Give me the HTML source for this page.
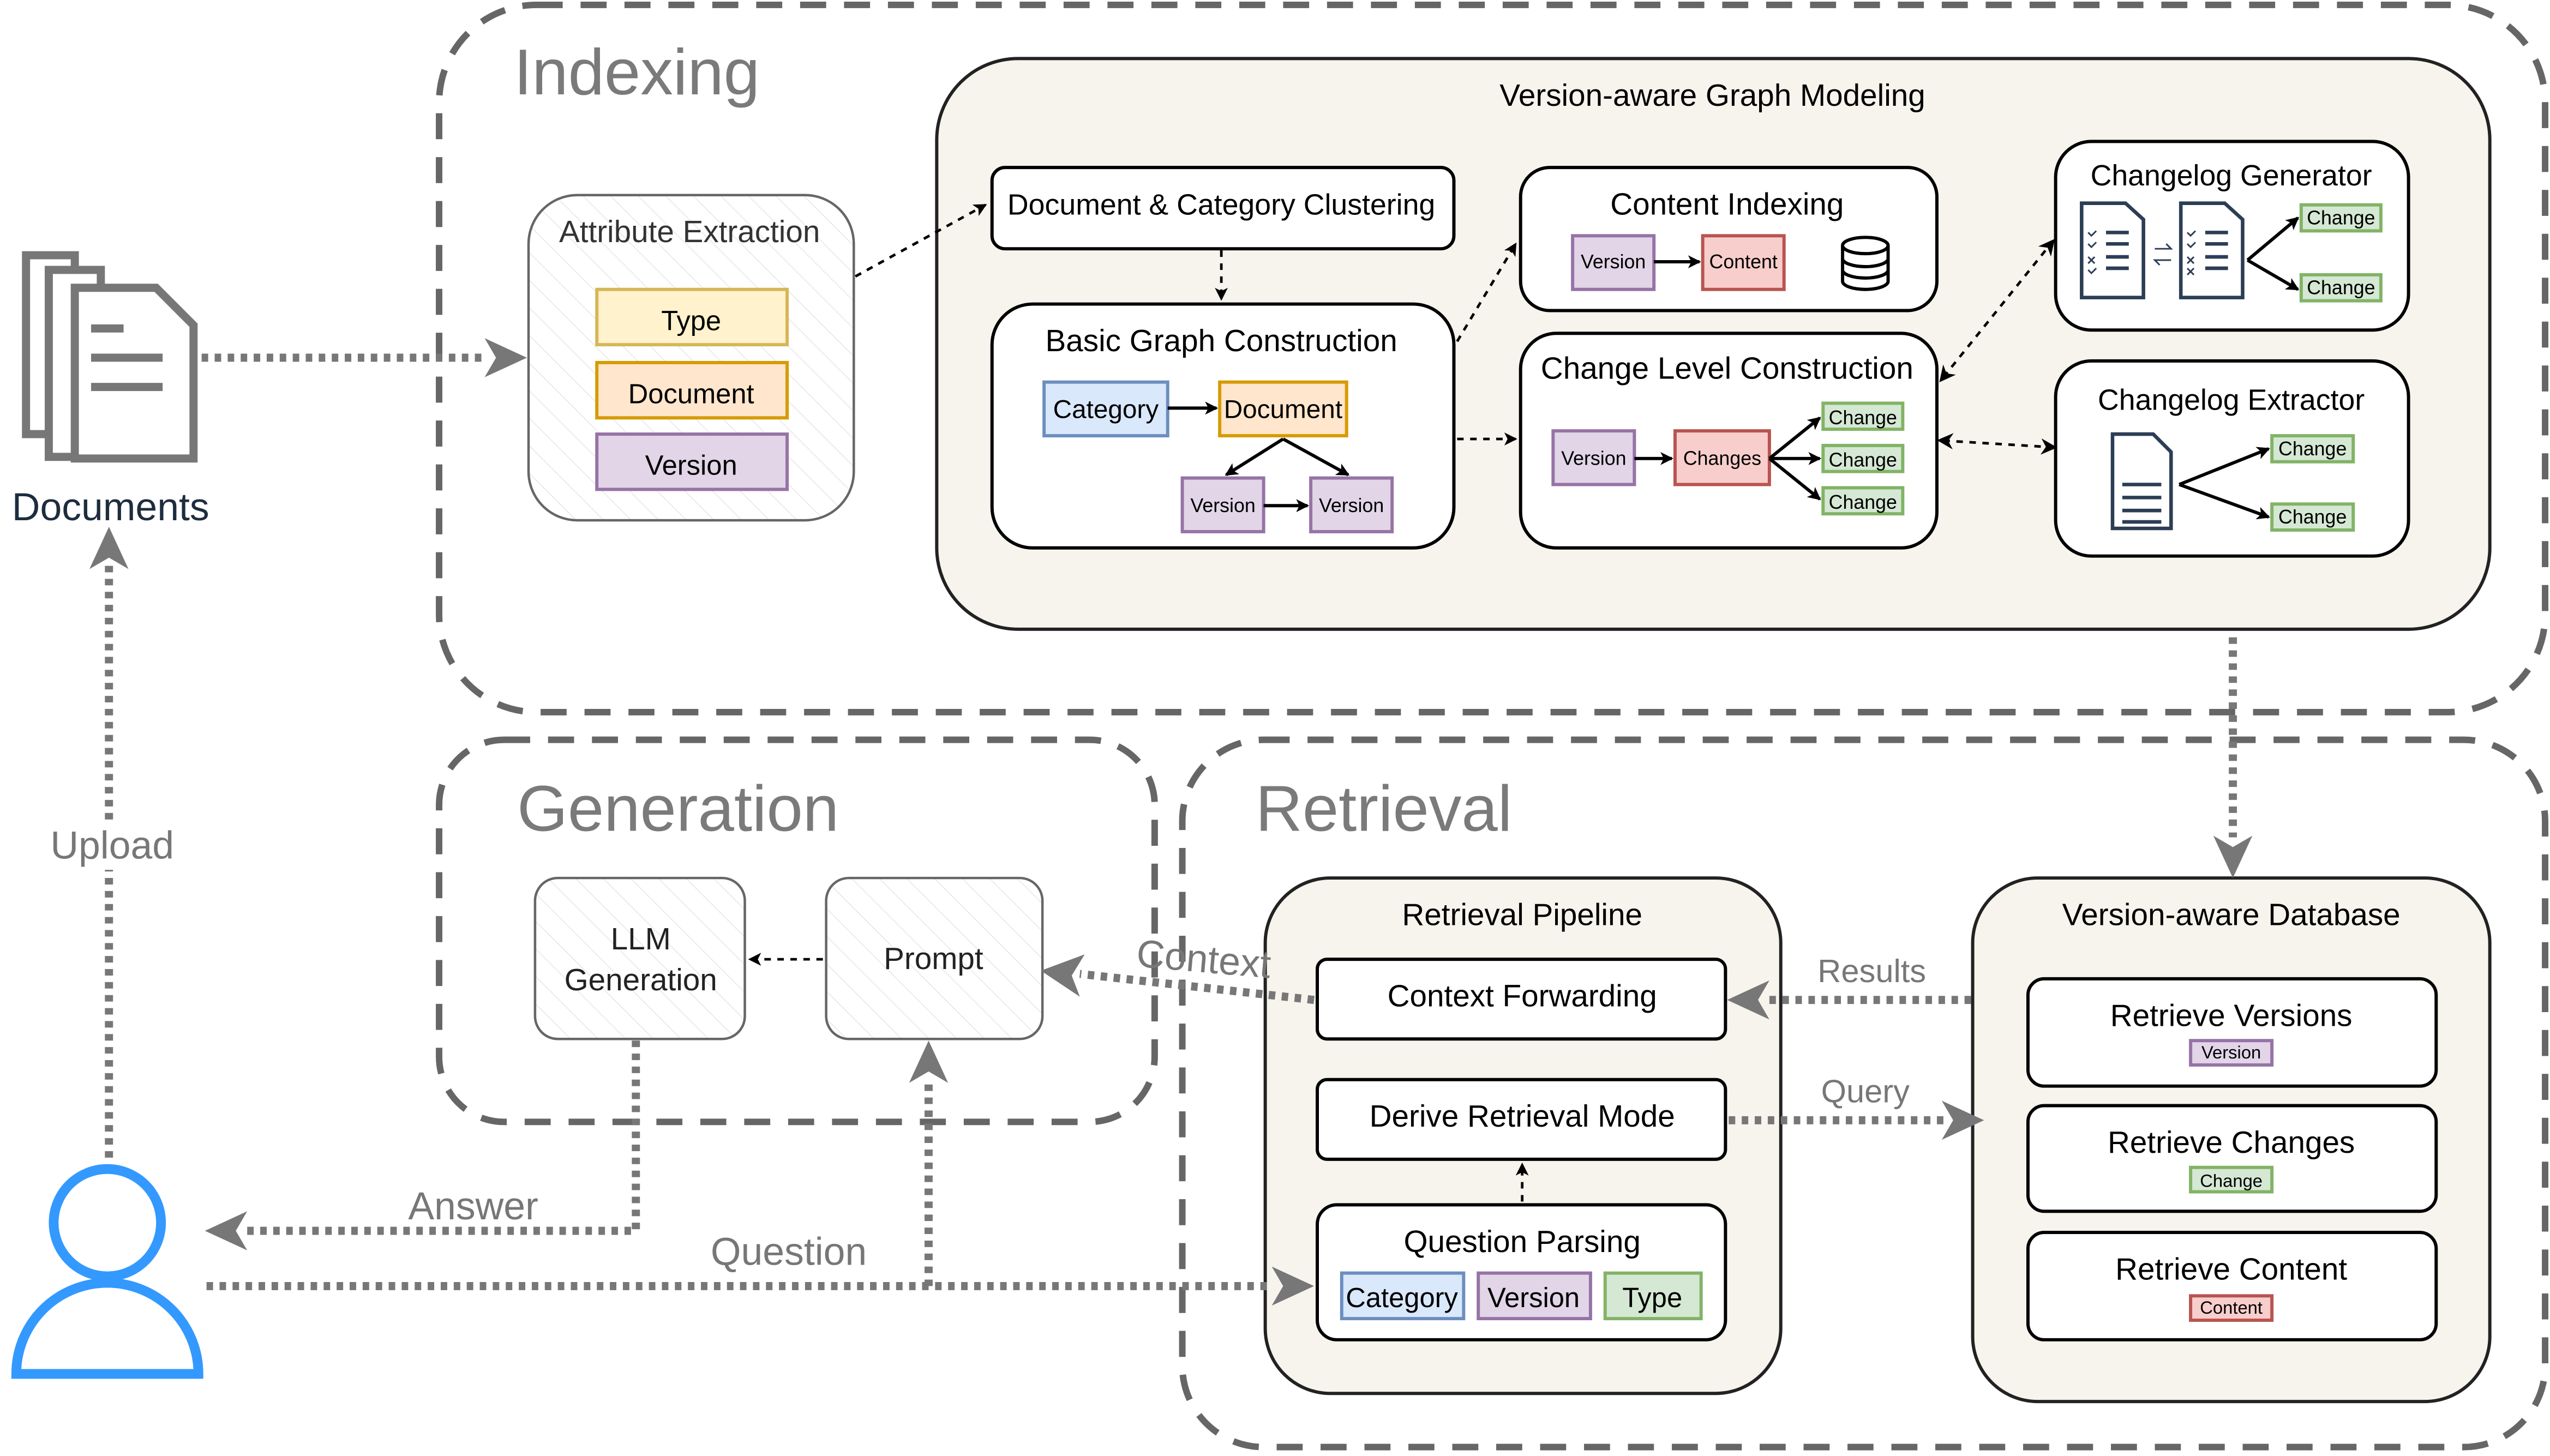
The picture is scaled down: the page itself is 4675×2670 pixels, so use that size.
<!DOCTYPE html>
<html><head><meta charset="utf-8"><style>html,body{margin:0;padding:0;background:#fff}svg{display:block}text{font-family:"Liberation Sans",sans-serif}</style></head>
<body>
<svg width="4675" height="2670" viewBox="0 0 1568 895.5" preserveAspectRatio="none" xmlns="http://www.w3.org/2000/svg">
<defs>
<pattern id="h" width="12" height="12" patternUnits="userSpaceOnUse" patternTransform="rotate(-45)"><rect width="12" height="12" fill="#fff"/><line x1="0" y1="0" x2="0" y2="12" stroke="#e6e6e6" stroke-width="1"/></pattern>
<marker id="ab" markerWidth="8" markerHeight="8" refX="7" refY="4" orient="auto" markerUnits="userSpaceOnUse"><path d="M0,0 L8,4 L0,8 L2,4z" fill="#000"/></marker>
<marker id="abs" markerWidth="10" markerHeight="10" refX="6" refY="5" orient="auto-start-reverse" markerUnits="userSpaceOnUse"><path d="M0,0 L10,5 L0,10 L3,5z" fill="#000"/></marker>
</defs>
<g fill="none" stroke="#666" stroke-width="4" stroke-dasharray="16 11">
<rect x="270" y="3" width="1295" height="435" rx="60"/>
<rect x="270" y="455" width="440" height="235" rx="40"/>
<rect x="727" y="455" width="838" height="435" rx="50"/>
</g>
<text x="316" y="58" font-size="40" fill="#7a7a7a">Indexing</text>
<text x="318" y="511" font-size="40" fill="#7a7a7a">Generation</text>
<text x="772" y="511" font-size="40" fill="#7a7a7a">Retrieval</text>
<!-- documents icon -->
<g fill="#fff" stroke="#777" stroke-width="5">
<path d="M16,157 h30 l0,0 v110 h-30z"/>
<path d="M30,166 h32 v115 h-32z"/>
<path d="M46,177 h50 l23,23 v82 h-73z"/>
<path d="M56,202 h20 M56,220 h44 M56,238 h44" fill="none"/>
</g>
<text x="68" y="320" font-size="24" fill="#1e2d3d" text-anchor="middle">Documents</text>
<!-- user -->
<g fill="none" stroke="#3399ff" stroke-width="6">
<circle cx="66" cy="752" r="33"/>
<path d="M10,845 a56,56 0 0 1 112,0 z"/>
</g>
<!-- attribute extraction -->
<rect x="325" y="120" width="200" height="200" rx="30" fill="url(#h)" stroke="#666" stroke-width="1.5"/>
<text x="424" y="149" font-size="19" fill="#333" text-anchor="middle">Attribute Extraction</text>
<rect x="367" y="178" width="117" height="34" fill="#fff2cc" stroke="#d6b656" stroke-width="2"/>
<text x="425" y="203" font-size="17" text-anchor="middle">Type</text>
<rect x="367" y="223" width="117" height="34" fill="#ffe6cc" stroke="#d79b00" stroke-width="2"/>
<text x="425" y="248" font-size="17" text-anchor="middle">Document</text>
<rect x="367" y="267" width="117" height="34" fill="#e1d5e7" stroke="#9673a6" stroke-width="2"/>
<text x="425" y="292" font-size="17" text-anchor="middle">Version</text>
<!-- VGM -->
<rect x="576" y="36" width="955" height="351" rx="50" fill="#f6f4ec" stroke="#222" stroke-width="2"/>
<text x="1053" y="65" font-size="19" text-anchor="middle">Version-aware Graph Modeling</text>
<g fill="#fff" stroke="#000" stroke-width="2">
<rect x="610" y="103" width="284" height="50" rx="8"/>
<rect x="610" y="187" width="284" height="150" rx="25"/>
<rect x="935" y="103" width="256" height="88" rx="18"/>
<rect x="935" y="205" width="256" height="132" rx="22"/>
<rect x="1264" y="87" width="217" height="116" rx="22"/>
<rect x="1264" y="222" width="217" height="120" rx="22"/>
</g>
<text x="751" y="132" font-size="18" text-anchor="middle">Document &amp; Category Clustering</text>
<text x="751" y="216" font-size="19" text-anchor="middle">Basic Graph Construction</text>
<text x="1062" y="132" font-size="19" text-anchor="middle">Content Indexing</text>
<text x="1062" y="233" font-size="19" text-anchor="middle">Change Level Construction</text>
<text x="1372" y="114" font-size="18" text-anchor="middle">Changelog Generator</text>
<text x="1372" y="252" font-size="18" text-anchor="middle">Changelog Extractor</text>
<g stroke-width="2">
<rect x="642" y="235" width="76" height="33" fill="#dae8fc" stroke="#6c8ebf"/>
<rect x="750" y="235" width="78" height="33" fill="#ffe6cc" stroke="#d79b00"/>
<rect x="727" y="294" width="50" height="33" fill="#e1d5e7" stroke="#9673a6"/>
<rect x="806" y="294" width="50" height="33" fill="#e1d5e7" stroke="#9673a6"/>
<rect x="967" y="145" width="50" height="33" fill="#e1d5e7" stroke="#9673a6"/>
<rect x="1047" y="145" width="50" height="33" fill="#f8cecc" stroke="#b85450"/>
<rect x="955" y="265" width="50" height="33" fill="#e1d5e7" stroke="#9673a6"/>
<rect x="1030" y="265" width="58" height="33" fill="#f8cecc" stroke="#b85450"/>
<rect x="1121" y="248" width="49" height="16" fill="#d5e8d4" stroke="#82b366"/>
<rect x="1121" y="274" width="49" height="16" fill="#d5e8d4" stroke="#82b366"/>
<rect x="1121" y="300" width="49" height="16" fill="#d5e8d4" stroke="#82b366"/>
<rect x="1415" y="126" width="49" height="16" fill="#d5e8d4" stroke="#82b366"/>
<rect x="1415" y="169" width="49" height="16" fill="#d5e8d4" stroke="#82b366"/>
<rect x="1397" y="268" width="50" height="16" fill="#d5e8d4" stroke="#82b366"/>
<rect x="1397" y="310" width="50" height="16" fill="#d5e8d4" stroke="#82b366"/>
</g>
<g font-size="16" text-anchor="middle">
<text x="680" y="257">Category</text>
<text x="789" y="257">Document</text>
</g>
<g font-size="12" text-anchor="middle">
<text x="752" y="315">Version</text><text x="831" y="315">Version</text>
<text x="992" y="165">Version</text><text x="1072" y="165">Content</text>
<text x="980" y="286">Version</text><text x="1059" y="286">Changes</text>
<text x="1145.5" y="261">Change</text><text x="1145.5" y="287">Change</text><text x="1145.5" y="313">Change</text>
<text x="1439.5" y="138">Change</text><text x="1439.5" y="181">Change</text>
<text x="1422" y="280">Change</text><text x="1422" y="322">Change</text>
</g>
<g stroke="#000" stroke-width="2" fill="none" marker-end="url(#ab)">
<line x1="718" y1="251" x2="748" y2="251"/>
<line x1="789" y1="270" x2="754" y2="292"/>
<line x1="789" y1="270" x2="829" y2="292"/>
<line x1="777" y1="311" x2="804" y2="311"/>
<line x1="1017" y1="161" x2="1045" y2="161"/>
<line x1="1005" y1="282" x2="1028" y2="282"/>
<line x1="1088" y1="282" x2="1119" y2="257"/>
<line x1="1088" y1="282" x2="1119" y2="282"/>
<line x1="1088" y1="282" x2="1119" y2="307"/>
<line x1="1382" y1="160" x2="1413" y2="134"/>
<line x1="1382" y1="160" x2="1413" y2="178"/>
<line x1="1340" y1="298" x2="1395" y2="276"/>
<line x1="1340" y1="298" x2="1395" y2="318"/>
</g>
<!-- database icon -->
<g fill="#fff" stroke="#000" stroke-width="2">
<path d="M1133,151 v22 a14,5 0 0 0 28,0 v-22"/>
<ellipse cx="1147" cy="151" rx="14" ry="5"/>
<path d="M1133,159 a14,5 0 0 0 28,0 M1133,166 a14,5 0 0 0 28,0" fill="none"/>
</g>
<!-- changelog doc icons -->
<g fill="#fff" stroke="#2c3e55" stroke-width="2.2">
<path d="M1280,125 h27 l11,10 v48 h-38z"/>
<path d="M1341,125 h27 l11,10 v48 h-38z"/>
<path d="M1299,267 h25 l11,11 v47 h-36z"/>
<path d="M1295,143 h14 M1295,150 h14 M1295,158 h14 M1295,165 h14 M1356,143 h14 M1356,150 h14 M1356,158 h14 M1356,165 h14 M1305,298 h24 M1305,306 h24 M1305,314 h24 M1305,321 h24" fill="none"/>
<path d="M1325,153 h10 l-3,-3 M1335,160 h-10 l3,3" fill="none" stroke-width="1"/>
<path d="M1284,143 l2,2 3,-3 M1284,150 l2,2 3,-3 M1284,158 l4,4 M1288,158 l-4,4 M1284,166 l2,2 3,-3 M1345,143 l2,2 3,-3 M1345,150 l2,2 3,-3 M1345,158 l4,4 M1349,158 l-4,4 M1345,165 l4,4 M1349,165 l-4,4" fill="none" stroke-width="1"/>
</g>
<!-- generation boxes -->
<rect x="329" y="540" width="129" height="99" rx="14" fill="url(#h)" stroke="#666" stroke-width="1.5"/>
<text x="394" y="584" font-size="19" fill="#222" text-anchor="middle">LLM</text>
<text x="394" y="609" font-size="19" fill="#222" text-anchor="middle">Generation</text>
<rect x="508" y="540" width="133" height="99" rx="14" fill="url(#h)" stroke="#666" stroke-width="1.5"/>
<text x="574" y="596" font-size="19" fill="#222" text-anchor="middle">Prompt</text>
<!-- retrieval pipeline -->
<rect x="778" y="540" width="317" height="317" rx="40" fill="#f6f4ec" stroke="#222" stroke-width="2"/>
<text x="936" y="569" font-size="19" text-anchor="middle">Retrieval Pipeline</text>
<rect x="1213" y="540" width="318" height="322" rx="40" fill="#f6f4ec" stroke="#222" stroke-width="2"/>
<text x="1372" y="569" font-size="19" text-anchor="middle">Version-aware Database</text>
<g fill="#fff" stroke="#000" stroke-width="2">
<rect x="810" y="590" width="251" height="49" rx="6"/>
<rect x="810" y="664" width="251" height="49" rx="6"/>
<rect x="810" y="741" width="251" height="83" rx="12"/>
<rect x="1247" y="602" width="251" height="66" rx="10"/>
<rect x="1247" y="680" width="251" height="65" rx="10"/>
<rect x="1247" y="758" width="251" height="66" rx="10"/>
</g>
<g font-size="19" text-anchor="middle">
<text x="936" y="619">Context Forwarding</text>
<text x="936" y="693">Derive Retrieval Mode</text>
<text x="936" y="770">Question Parsing</text>
<text x="1372" y="631">Retrieve Versions</text>
<text x="1372" y="709">Retrieve Changes</text>
<text x="1372" y="787">Retrieve Content</text>
</g>
<g stroke-width="2">
<rect x="825" y="783" width="75" height="28" fill="#dae8fc" stroke="#6c8ebf"/>
<rect x="909" y="783" width="69" height="28" fill="#e1d5e7" stroke="#9673a6"/>
<rect x="987" y="783" width="59" height="28" fill="#d5e8d4" stroke="#82b366"/>
<rect x="1347" y="640" width="50" height="15" fill="#e1d5e7" stroke="#9673a6"/>
<rect x="1347" y="718" width="50" height="15" fill="#d5e8d4" stroke="#82b366"/>
<rect x="1347" y="797" width="50" height="15" fill="#f8cecc" stroke="#b85450"/>
</g>
<g font-size="17" text-anchor="middle">
<text x="862" y="804">Category</text><text x="943" y="804">Version</text><text x="1016" y="804">Type</text>
</g>
<g font-size="11" text-anchor="middle">
<text x="1372" y="651">Version</text><text x="1372" y="730">Change</text><text x="1372" y="808">Content</text>
</g>
<!-- gray connectors (on top) -->
<g fill="none" stroke="#777" stroke-width="5" stroke-dasharray="4 4">
<line x1="124" y1="220" x2="298" y2="220"/>
<line x1="67" y1="712" x2="67" y2="348"/>
<line x1="1373" y1="392" x2="1373" y2="515"/>
<polyline points="391,640 391,757 150,757"/>
<line x1="127" y1="791" x2="783" y2="791"/>
<line x1="571" y1="791" x2="571" y2="665"/>
<line x1="1212" y1="615" x2="1087" y2="615"/>
<line x1="1063" y1="689" x2="1195" y2="689"/>
<line x1="808" y1="615" x2="664" y2="599"/>
</g>
<g fill="#777">
<path d="M324,220 l-26,-12 7,12 -7,12z"/>
<path d="M67,324 l-12,26 12,-7 12,7z"/>
<path d="M1373,540 l-12,-26 12,7 12,-7z"/>
<path d="M126,757 l26,-12 -7,12 7,12z"/>
<path d="M808,791 l-26,-12 7,12 -7,12z"/>
<path d="M571,640 l-12,26 12,-7 12,7z"/>
<path d="M1062,615 l26,-12 -7,12 7,12z"/>
<path d="M1220,689 l-26,-12 7,12 -7,12z"/>
<path d="M640,597 l27,-10 -8,13 5,13z"/>
</g>
<rect x="30" y="505" width="80" height="30" fill="#fff"/>
<text x="69" y="528" font-size="24" fill="#777" text-anchor="middle">Upload</text>
<text x="291" y="750" font-size="24" fill="#777" text-anchor="middle">Answer</text>
<text x="485" y="778" font-size="24" fill="#777" text-anchor="middle">Question</text>
<text x="1151" y="604" font-size="20" fill="#777" text-anchor="middle">Results</text>
<text x="1147" y="678" font-size="20" fill="#777" text-anchor="middle">Query</text>
<text x="740" y="598" font-size="24" fill="#777" text-anchor="middle" transform="rotate(5 740 592)">Context</text>
<!-- dashed black arrows -->
<g stroke="#000" stroke-width="1.6" fill="none" stroke-dasharray="4 4">
<line x1="526" y1="170" x2="606" y2="126" marker-end="url(#ab)"/>
<line x1="751" y1="154" x2="751" y2="184" marker-end="url(#ab)"/>
<line x1="896" y1="210" x2="932" y2="150" marker-end="url(#ab)"/>
<line x1="896" y1="270" x2="932" y2="270" marker-end="url(#ab)"/>
<line x1="1195" y1="232" x2="1261" y2="150" marker-end="url(#abs)" marker-start="url(#abs)"/>
<line x1="1195" y1="271" x2="1261" y2="275" marker-end="url(#abs)" marker-start="url(#abs)"/>
<line x1="506" y1="590" x2="461" y2="590" marker-end="url(#ab)"/>
<line x1="936" y1="739" x2="936" y2="716" marker-end="url(#ab)"/>
</g>
</svg>
</body></html>
